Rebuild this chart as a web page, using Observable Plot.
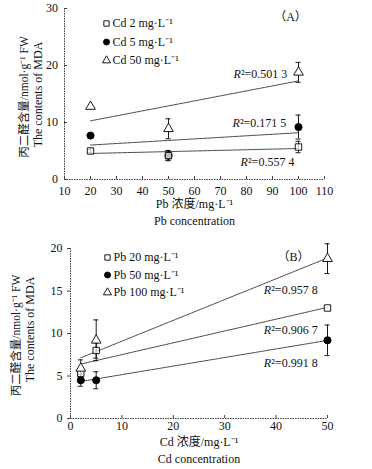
<!DOCTYPE html>
<html><head><meta charset="utf-8">
<script src="https://cdn.jsdelivr.net/npm/d3@7"></script>
<script src="https://cdn.jsdelivr.net/npm/@observablehq/plot@0.6"></script>
<style>
body{margin:0;background:#fff;}
#chart{width:372px;}
svg{display:block;}
</style></head><body><div id="chart"></div>
<script>
const FONT = "'Liberation Serif','Noto Sans CJK SC',serif";

// ---------- Panel A: x = Pb concentration ----------
const pbLevels = [20, 50, 100];
const seriesA = ["Cd 2 mg·L⁻¹", "Cd 5 mg·L⁻¹", "Cd 50 mg·L⁻¹"];
const cd2Values = [5.0, 4.2, 5.7];
const cd2Err = [0.3, 0.9, 1.0];
const cd5Values = [7.7, 4.2, 9.2];
const cd5Err = [0, 0.8, 2.1];
const cd50Values = [12.8, 8.9, 18.8];
const cd50Err = [0, 1.75, 1.75];
const r2TextA = ["0.557 4", "0.171 5", "0.501 3"];
const r2XA = [77.7, 74.6, 75];
const r2YA = [3.0, 9.8, 18.5];
const xTicksA = [10, 20, 30, 40, 50, 60, 70, 80, 90, 100, 110];
const yTicksA = [0, 10, 20, 30];

// ---------- Panel B: x = Cd concentration ----------
const cdLevels = [2, 5, 50];
const seriesB = ["Pb 20 mg·L⁻¹", "Pb 50 mg·L⁻¹", "Pb 100 mg·L⁻¹"];
const pb20Values = [5.3, 8.0, 13.0];
const pb20Err = [0.5, 0.9, 0];
const pb50Values = [4.5, 4.5, 9.2];
const pb50Err = [0.7, 1.0, 1.8];
const pb100Values = [5.9, 9.2, 18.8];
const pb100Err = [1.0, 2.4, 1.75];
const r2TextB = ["0.957 8", "0.906 7", "0.991 8"];
const r2XB = [37.6, 37.6, 37.6];
const r2YB = [15.1, 10.4, 6.5];
const xTicksB = [0, 10, 20, 30, 40, 50];
const yTicksB = [0, 5, 10, 15, 20];

const symbols = ["square", "circle", "triangle"];
const fills = ["white", "black", "white"];
const drawOrder = [1, 0, 2];

function table(xs, names, vals, errs) {
  const rows = [];
  drawOrder.forEach(i => xs.forEach((x, j) => rows.push({x, y: vals[i][j], e: errs[i][j], s: names[i], i})));
  return rows;
}

function panel(cfg) {
  const data = table(cfg.xs, cfg.names, cfg.vals, cfg.errs);
  const errs = data.filter(d => d.e > 0);
  const labels = cfg.r2Text.map((t, i) => ({t, x: cfg.r2X[i], y: cfg.r2Y[i]}));
  const lineStyle = {stroke: "#444", strokeWidth: 1, strokeDasharray: "1.6,0.9"};
  const legend = [];
  cfg.names.forEach((n, i) => {
    legend.push(Plot.dot([n], {frameAnchor: "top-left", dx: cfg.legDx, dy: cfg.legDy + i * cfg.legStep,
      symbol: symbols[i], r: 3, fill: fills[i], stroke: "black", strokeWidth: 0.9}));
    legend.push(Plot.text([n], {frameAnchor: "top-left", dx: cfg.legDx + 6, dy: cfg.legDy + i * cfg.legStep,
      text: d => d, textAnchor: "start", lineAnchor: "middle", fontSize: 12}));
  });
  return Plot.plot({
    width: 372, height: cfg.height,
    marginLeft: cfg.ml, marginRight: cfg.mr, marginTop: cfg.mt, marginBottom: cfg.mb,
    style: {fontFamily: FONT, fontSize: "12px", color: "#111", background: "white"},
    x: {domain: cfg.xDomain},
    y: {domain: cfg.yDomain},
    symbol: {domain: cfg.names, range: symbols},
    marks: [
      Plot.axisX({ticks: cfg.xTicks, tickSize: -3, tickPadding: cfg.xPad, label: null, strokeWidth: 0.8}),
      Plot.axisY({ticks: cfg.yTicks, tickSize: cfg.yTickSize, tickPadding: cfg.yPad, label: null, strokeWidth: 0.8}),
      Plot.ruleY([cfg.yDomain[0]], lineStyle),
      Plot.ruleX([cfg.xDomain[0]], lineStyle),
      Plot.linearRegressionY(data, {x: "x", y: "y", z: "s", ci: 0, ...lineStyle}),
      Plot.ruleX(errs, {x: "x", y1: d => d.y - d.e, y2: d => d.y + d.e, stroke: "black", strokeWidth: 0.9}),
      Plot.ruleY(errs, {y: d => d.y + d.e, x1: "x", x2: "x", insetLeft: -2.5, insetRight: -2.5, stroke: "black", strokeWidth: 0.9}),
      Plot.ruleY(errs, {y: d => d.y - d.e, x1: "x", x2: "x", insetLeft: -2.5, insetRight: -2.5, stroke: "black", strokeWidth: 0.9}),
      Plot.dot(data, {x: "x", y: "y", symbol: "s", r: 3.6, fill: d => fills[d.i], fillOpacity: d => d.i === 0 ? 0.75 : 1, stroke: "black", strokeWidth: 0.9}),
      Plot.text(labels, {x: "x", y: "y", text: () => "R", fontStyle: "italic", textAnchor: "start", lineAnchor: "middle", fontSize: 12}),
      Plot.text(labels, {x: "x", y: "y", text: d => "²=" + d.t, dx: 7.5, textAnchor: "start", lineAnchor: "middle", fontSize: 12}),
      ...legend,
      Plot.text([cfg.tag], {frameAnchor: "top-right", dx: cfg.tagDx, dy: cfg.tagDy, text: d => d, textAnchor: "middle", lineAnchor: "middle", fontSize: 12}),
      Plot.text([cfg.xLabel1], {frameAnchor: "bottom", dy: cfg.xl1, text: d => d, lineAnchor: "middle", fontSize: 12}),
      Plot.text([cfg.xLabel2], {frameAnchor: "bottom", dy: cfg.xl2, text: d => d, lineAnchor: "middle", fontSize: 12}),
      Plot.text(["丙二醛含量/nmol·g⁻¹ FW"], {frameAnchor: "left", dx: cfg.yl1dx, dy: cfg.yl1dy, rotate: -90, text: d => d, textAnchor: "middle", lineAnchor: "middle", fontSize: 11.5}),
      Plot.text(["The contents of MDA"], {frameAnchor: "left", dx: cfg.yl2dx, dy: cfg.yl2dy, rotate: -90, text: d => d, textAnchor: "middle", lineAnchor: "middle", fontSize: 12})
    ]
  });
}

const chartA = panel({
  xs: pbLevels, names: seriesA, vals: [cd2Values, cd5Values, cd50Values], errs: [cd2Err, cd5Err, cd50Err],
  r2Text: r2TextA, r2X: r2XA, r2Y: r2YA,
  height: 232, ml: 64, mr: 48, mt: 8, mb: 53,
  xDomain: [10, 110], yDomain: [0, 30], xTicks: xTicksA, yTicks: yTicksA,
  xPad: 9.5, yTickSize: -3, yPad: 9.5,
  legDx: 42, legDy: 15, legStep: 18.5,
  tag: "（A）", tagDx: -34, tagDy: 9,
  xLabel1: "Pb 浓度/mg·L⁻¹", xLabel2: "Pb concentration", xl1: 25, xl2: 42,
  yl1dx: -40, yl1dy: 3, yl2dx: -26, yl2dy: 0.5
});

const chartB = panel({
  xs: cdLevels, names: seriesB, vals: [pb20Values, pb50Values, pb100Values], errs: [pb20Err, pb50Err, pb100Err],
  r2Text: r2TextB, r2X: r2XB, r2Y: r2YB,
  height: 237, ml: 70, mr: 45, mt: 16, mb: 51,
  xDomain: [0, 50], yDomain: [0, 20], xTicks: xTicksB, yTicks: yTicksB,
  xPad: 5.7, yTickSize: 3, yPad: 5,
  legDx: 37, legDy: 9, legStep: 17.5,
  tag: "（B）", tagDx: -34, tagDy: 9,
  xLabel1: "Cd 浓度/mg·L⁻¹", xLabel2: "Cd concentration", xl1: 24, xl2: 41,
  yl1dx: -54, yl1dy: 2, yl2dx: -40, yl2dy: -4
});

document.getElementById("chart").append(chartA, chartB);
</script></body></html>
